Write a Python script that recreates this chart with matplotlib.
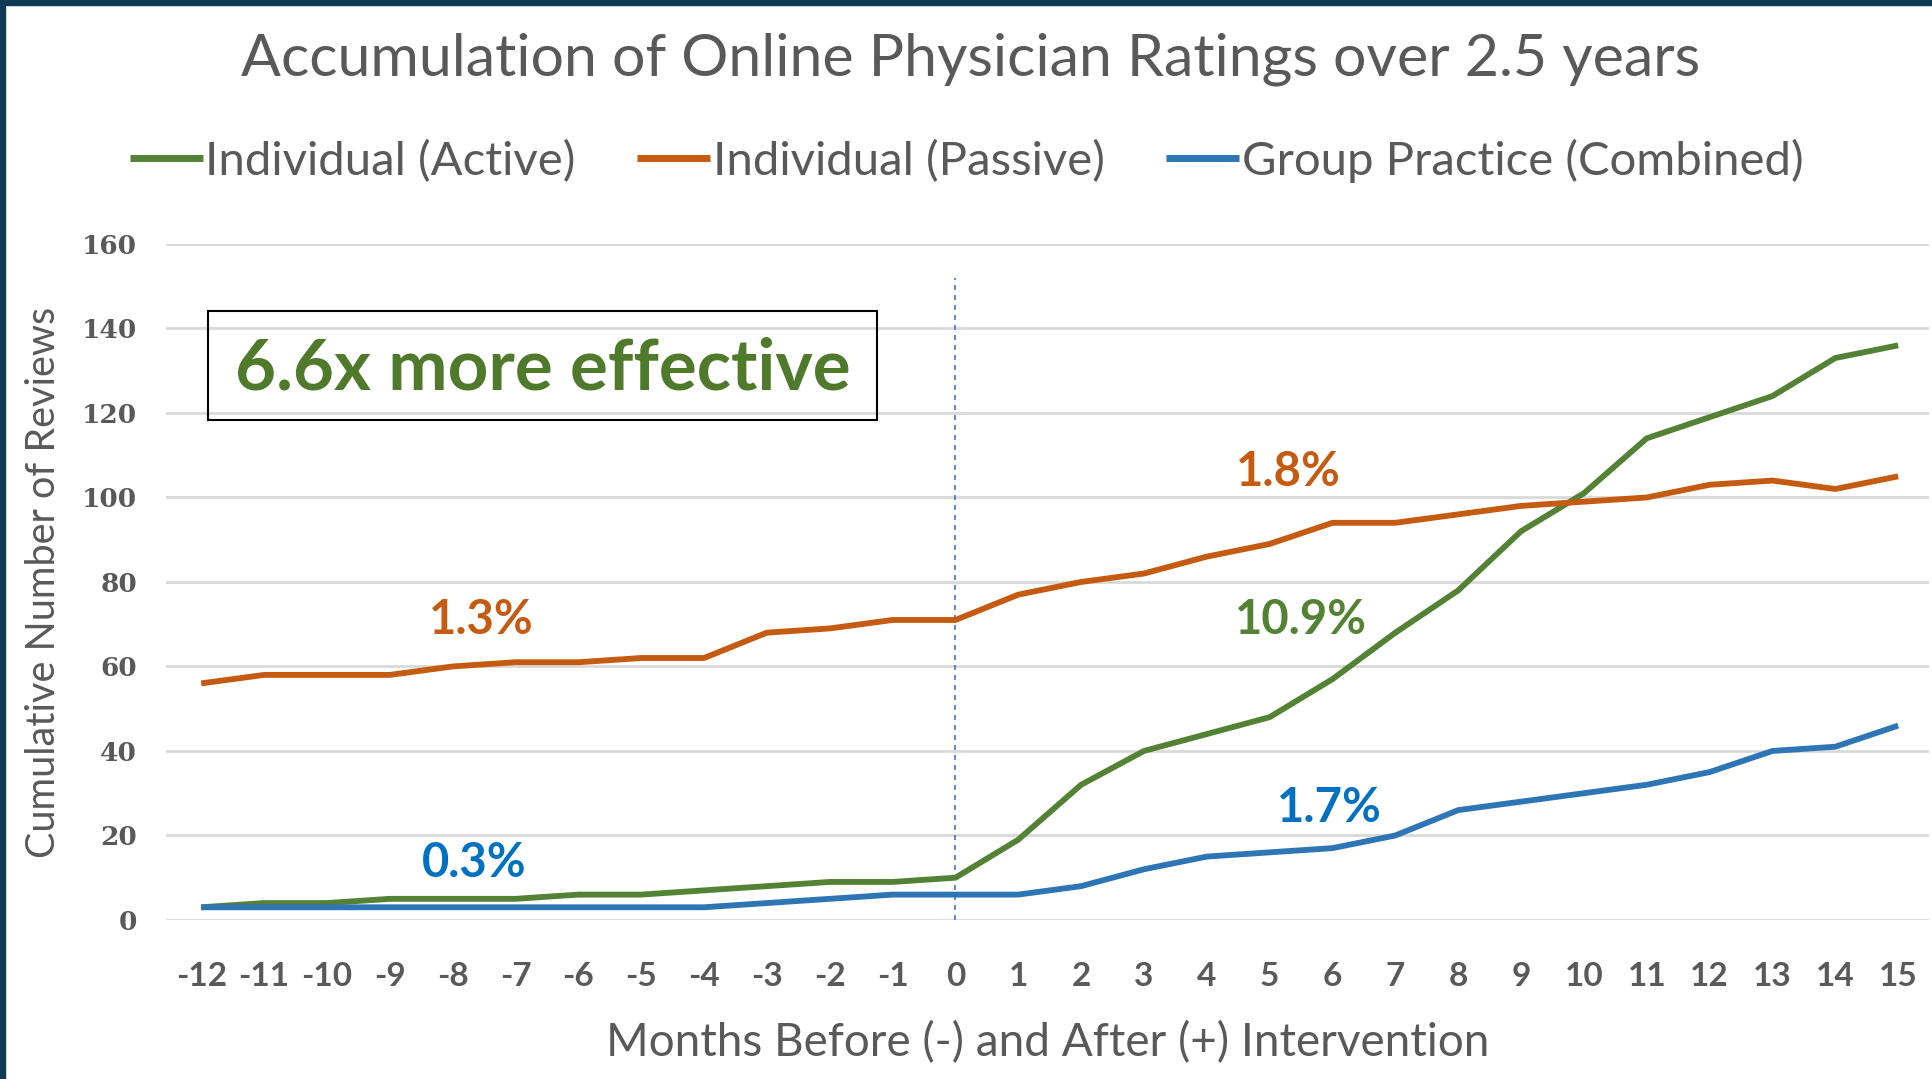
import numpy as np
import matplotlib
matplotlib.use("Agg")
import matplotlib.pyplot as plt
from matplotlib.patches import Rectangle

months = list(range(-12, 16))
active = [3, 4, 4, 5, 5, 5, 6, 6, 7, 8, 9, 9, 10,
          19, 32, 40, 44, 48, 57, 68, 78, 92, 101, 114, 119, 124, 133, 136]
passive = [56, 58, 58, 58, 60, 61, 61, 62, 62, 68, 69, 71, 71,
           77, 80, 82, 86, 89, 94, 94, 96, 98, 99, 100, 103, 104, 102, 105]
group = [3, 3, 3, 3, 3, 3, 3, 3, 3, 4, 5, 6, 6,
         6, 8, 12, 15, 16, 17, 20, 26, 28, 30, 32, 35, 40, 41, 46]
series_names = ["Individual (Active)", "Individual (Passive)", "Group Practice (Combined)"]
yticks = [0, 20, 40, 60, 80, 100, 120, 140, 160]

# growth-rate labels: (text, x, y, colour)
notes = [("1.3%", -7.55, 71, "#c55a11"),
         ("0.3%", -7.65, 13.5, "#0070c0"),
         ("1.8%", 5.3, 106, "#c55a11"),
         ("10.9%", 5.5, 71, "#548235"),
         ("1.7%", 5.95, 26.5, "#0070c0")]

GREEN = "#548235"
ORANGE = "#c55a11"
BLUE = "#2e75b6"
GRAY = "#595959"

fig = plt.figure(figsize=(19.33, 10.79), dpi=100)
ax = fig.add_axes([0.0859, 0.1474, 0.912, 0.6265])

for vals, c, name in zip([active, passive, group], [GREEN, ORANGE, BLUE], series_names):
    ax.plot(months, vals, color=c, lw=4.2, label=name, solid_capstyle="butt", zorder=3)

ax.plot([0, 0], [0, 152], color="#4472c4", lw=1.2, ls=(0, (3, 3)), zorder=2)

ax.set_xlim(-12.56, 15.49)
ax.set_ylim(0, 160)
ax.set_yticks(yticks)
ax.set_xticks(months)
ax.set_xticklabels([str(m) for m in months], family="Lato", fontweight="bold",
                   fontsize=24, color=GRAY)
ax.set_yticklabels([str(v) for v in yticks], family="DejaVu Serif", fontweight="bold",
                   fontsize=19, color=GRAY)
ax.tick_params(length=0)
ax.tick_params(axis="x", pad=30)
ax.tick_params(axis="y", pad=21)
ax.grid(axis="y", color="#d9d9d9", lw=2)
ax.set_axisbelow(True)
for s in ax.spines.values():
    s.set_visible(False)

ax.set_xlabel("Months Before (-) and After (+) Intervention", family="Lato",
              fontsize=33, color=GRAY, labelpad=22)
ax.set_ylabel("Cumulative Number of Reviews", family="Lato", fontsize=28.5,
              color=GRAY, labelpad=14)

for t, x, y, c in notes:
    ax.text(x, y, t, color=c, fontsize=34, fontweight="bold", family="Lato",
            ha="center", va="center")

ax.add_patch(Rectangle((-11.9, 118.3), 10.66, 25.8, fill=False, ec="black",
                       lw=1.5, zorder=5))
ax.text(-6.57, 130.3, "6.6x more effective", fontsize=51, fontweight="bold",
        family="Lato", color="#4f7a2c", ha="center", va="center", zorder=6)

leg = fig.legend(loc="center", bbox_to_anchor=(0.5, 0.851), ncol=3, frameon=False,
                 prop={"family": "Lato", "size": 34}, handlelength=1.55,
                 handletextpad=0.05, columnspacing=1.3)
for t in leg.get_texts():
    t.set_color(GRAY)
for h in leg.get_lines():
    h.set_linewidth(5)

fig.text(0.502, 0.945, "Accumulation of Online Physician Ratings over 2.5 years",
         family="Lato", fontsize=42.5, color=GRAY, ha="center", va="center")

# dark frame along the top and left edges
fig.patches.append(Rectangle((0, 0.995), 1, 0.005, transform=fig.transFigure,
                             color="#0f3a55", zorder=10))
fig.patches.append(Rectangle((0, 0), 0.0025, 1, transform=fig.transFigure,
                             color="#0f3a55", zorder=10))

fig.savefig("out.png", dpi=100)
